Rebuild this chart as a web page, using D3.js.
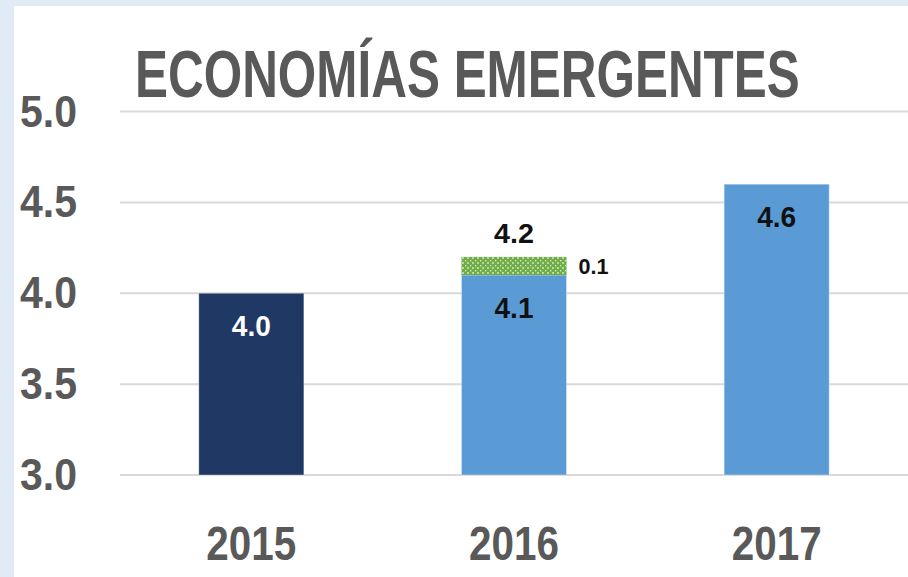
<!DOCTYPE html>
<html>
<head>
<meta charset="utf-8">
<script src="https://cdn.jsdelivr.net/npm/d3@7"></script>
<style>
  html, body { margin: 0; padding: 0; background: #e1ebf7; }
  svg { display: block; }
</style>
</head>
<body>
<svg id="canvas"></svg>
<script>
// data
const years = ["2015", "2016", "2017"];
const values = [4.0, 4.1, 4.6];
const revision = [0, 0.1, 0];
const yTicks = [3.0, 3.5, 4.0, 4.5, 5.0];
const title = "ECONOMÍAS EMERGENTES";

const width = 908;
const height = 577;
const sans = "'Liberation Sans', Arial, sans-serif";

const svg = d3.select("svg#canvas")
    .attr("width", width)
    .attr("height", height);

// squeeze a text horizontally to a given width (the source font is condensed)
const squeeze = (sel, target) => {
  sel.each(function() {
    const t = d3.select(this);
    const w = this.getComputedTextLength();
    const px = +t.attr("x"), py = +t.attr("y");
    t.attr("x", 0).attr("y", 0)
      .attr("transform", `translate(${px},${py}) scale(${target / w},1)`);
  });
};

// pattern for the revision piece
const pat = svg.append("defs").append("pattern")
    .attr("id", "dots")
    .attr("width", 5)
    .attr("height", 5)
    .attr("patternUnits", "userSpaceOnUse");
pat.append("rect").attr("width", 5).attr("height", 5).attr("fill", "#70ad47");
pat.append("circle").attr("cx", 0.5).attr("cy", 0.5).attr("r", 0.9).attr("fill", "#d9ecd0");
pat.append("circle").attr("cx", 3).attr("cy", 3).attr("r", 0.9).attr("fill", "#d9ecd0");

// white panel on the textured blue
svg.append("rect")
    .attr("x", 0).attr("y", 0)
    .attr("width", width).attr("height", height)
    .attr("fill", "#e1ebf7");
svg.append("rect")
    .attr("x", 14).attr("y", 6)
    .attr("width", width - 14).attr("height", height - 6)
    .attr("fill", "#ffffff");

const x = d3.scaleBand()
    .domain(years)
    .range([120, 908])
    .paddingInner(0.6)
    .paddingOuter(0.3);

const y = d3.scaleLinear()
    .domain([3, 5])
    .range([475, 111.5]);

// gridlines
svg.append("g")
  .selectAll("line")
  .data(yTicks)
  .join("line")
    .attr("x1", 120)
    .attr("x2", 908)
    .attr("y1", d => y(d))
    .attr("y2", d => y(d))
    .attr("stroke", "#d9d9d9")
    .attr("stroke-width", 2);

// tick labels
svg.append("g")
  .selectAll("text")
  .data(yTicks)
  .join("text")
    .attr("x", 20)
    .attr("y", d => y(d) + 15)
    .attr("font-family", sans)
    .attr("font-weight", "bold")
    .attr("font-size", 44)
    .attr("fill", "#595959")
    .text(d => d.toFixed(1))
    .call(squeeze, 57);

// bars
const barColor = ["#203864", "#5b9bd5", "#5b9bd5"];
svg.append("g")
  .selectAll("rect")
  .data(years)
  .join("rect")
    .attr("x", d => x(d))
    .attr("width", x.bandwidth())
    .attr("y", (d, i) => y(values[i]))
    .attr("height", (d, i) => y(3) - y(values[i]))
    .attr("fill", (d, i) => barColor[i])
    .attr("stroke", "#ffffff")
    .attr("stroke-opacity", 0.35)
    .attr("stroke-width", 1);

// revision piece
svg.append("g")
  .selectAll("rect")
  .data(years.filter((d, i) => revision[i] > 0))
  .join("rect")
    .attr("x", d => x(d))
    .attr("width", x.bandwidth())
    .attr("y", d => y(values[years.indexOf(d)] + revision[years.indexOf(d)]))
    .attr("height", d => {
      const i = years.indexOf(d);
      return y(values[i]) - y(values[i] + revision[i]);
    })
    .attr("fill", "url(#dots)");

// labels inside bars
svg.append("g")
  .selectAll("text")
  .data(years)
  .join("text")
    .attr("x", d => x(d) + x.bandwidth() / 2)
    .attr("y", (d, i) => y(values[i]) + 43)
    .attr("text-anchor", "middle")
    .attr("font-family", sans)
    .attr("font-weight", "bold")
    .attr("font-size", 29)
    .attr("fill", (d, i) => i === 0 ? "#ffffff" : "#111111")
    .text((d, i) => values[i].toFixed(1))
    .call(squeeze, 39);

// totals above and revision size beside
years.forEach((d, i) => {
  if (revision[i] <= 0) return;
  const top = values[i] + revision[i];
  svg.append("text")
      .attr("x", x(d) + x.bandwidth() / 2)
      .attr("y", y(top) - 14)
      .attr("text-anchor", "middle")
      .attr("font-family", sans)
      .attr("font-weight", "bold")
      .attr("font-size", 28)
      .attr("fill", "#111111")
      .text(top.toFixed(1))
      .call(squeeze, 40);
  svg.append("text")
      .attr("x", x(d) + x.bandwidth() + 12)
      .attr("y", y(values[i] + revision[i] / 2) + 8)
      .attr("font-family", sans)
      .attr("font-weight", "bold")
      .attr("font-size", 22)
      .attr("fill", "#111111")
      .text(revision[i].toFixed(1))
      .call(squeeze, 30);
});

// year labels
svg.append("g")
  .selectAll("text")
  .data(years)
  .join("text")
    .attr("x", d => x(d) + x.bandwidth() / 2)
    .attr("y", 560)
    .attr("text-anchor", "middle")
    .attr("font-family", sans)
    .attr("font-weight", "bold")
    .attr("font-size", 48)
    .attr("fill", "#595959")
    .text(d => d)
    .call(squeeze, 90);

// title
svg.append("text")
    .attr("x", 135)
    .attr("y", 97)
    .attr("font-family", sans)
    .attr("font-weight", "bold")
    .attr("font-size", 66)
    .attr("fill", "#595959")
    .text(title)
    .call(squeeze, 665);
</script>
</body>
</html>
